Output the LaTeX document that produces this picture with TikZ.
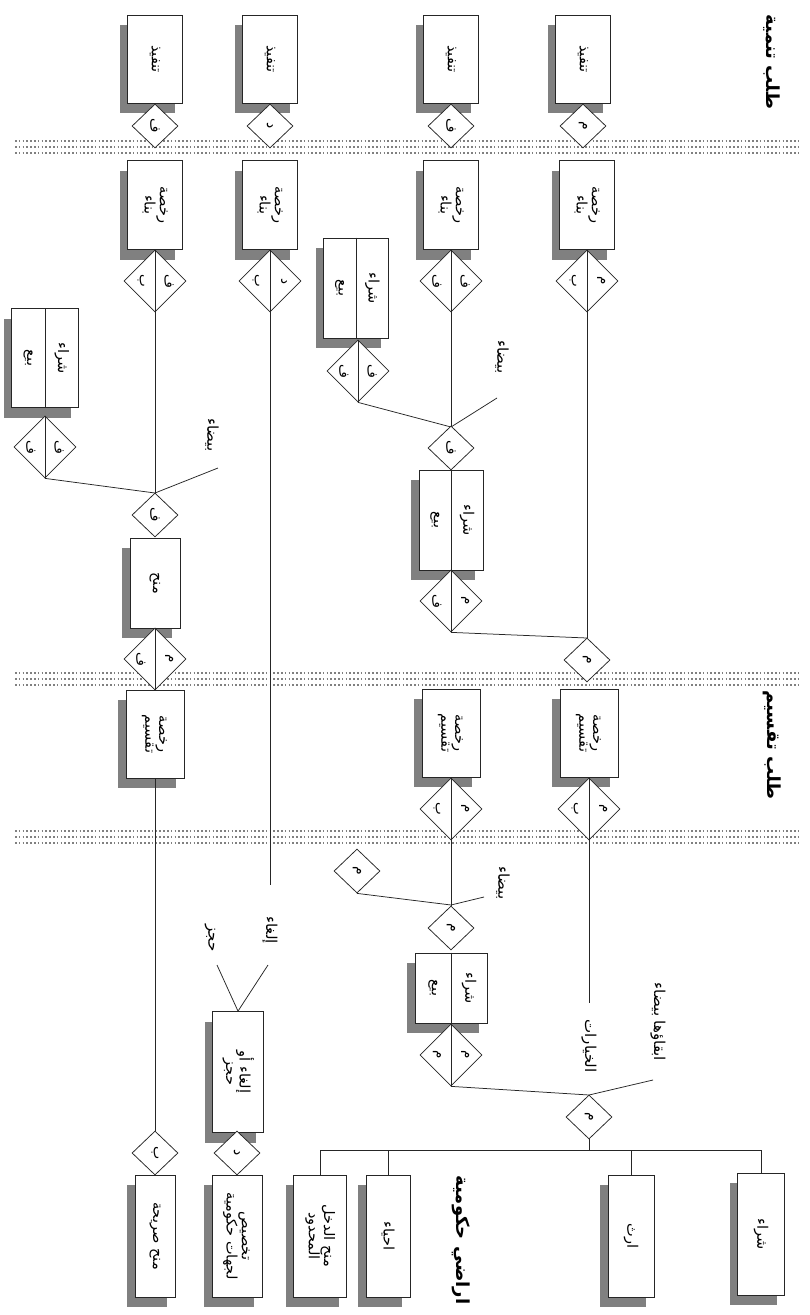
\documentclass[tikz,border=0pt]{standalone}
\usepackage{fontspec}
\usepackage{graphicx}
\usetikzlibrary{shapes.geometric,shadows,calc}
\TeXXeTstate=1
\newfontfamily\arabicfont[Script=Arabic]{DejaVu Sans}
\newcommand{\ar}[1]{{\arabicfont\beginR #1\endR}}
\newcommand{\rone}[1]{\rotatebox{-90}{\ar{#1}}}
\newcommand{\rtwo}[2]{\rotatebox{-90}{\renewcommand{\arraystretch}{0.85}\begin{tabular}{@{}c@{}}\ar{#1}\\\ar{#2}\end{tabular}}}
\tikzset{
  conn/.style={draw=black!85, line width=0.75pt},
  bx/.style={draw=black!85, line width=0.75pt, fill=white, inner sep=0pt,
    font=\fontsize{14.5}{16}\selectfont,
    drop shadow={shadow xshift=-8pt, shadow yshift=-10pt, fill=black!50, opacity=1}},
  dia/.style={diamond, draw=black!85, line width=0.75pt, fill=white, inner sep=0pt,
    minimum width=46pt, minimum height=44pt, font=\fontsize{14}{16}\selectfont},
  sdia/.style={dia, minimum width=62pt, minimum height=62pt},
  let/.style={inner sep=0pt, font=\fontsize{13.5}{15}\selectfont},
  txt/.style={inner sep=0pt, font=\fontsize{14.5}{16}\selectfont},
  lbl/.style={inner sep=0pt, font=\fontsize{15}{17}\selectfont},
  head/.style={inner sep=0pt, font=\fontsize{18}{21}\selectfont\bfseries},
  dots/.style={draw=black!50, line width=1.6pt, dash pattern=on 1.5pt off 2.3pt}
}
\newcommand{\sdiam}[5]{%
  \node[sdia] (#1) at (#2,#3) {};
  \draw[conn] (#1.north) -- (#1.south);
  \node[let] at ($(#1.center)!0.45!(#1.west)$) {\rone{#4}};
  \node[let] at ($(#1.center)!0.45!(#1.east)$) {\rone{#5}};
}
\newcommand{\splitbx}[5]{%
  \node[bx, minimum width=#4pt, minimum height=#5pt] (#1) at (#2,#3) {};
  \draw[conn] (#1.north) -- (#1.south);
  \node[txt] at ($(#1.center)!0.5!(#1.west)$) {\rone{بيع}};
  \node[txt] at ($(#1.center)!0.5!(#1.east)$) {\rone{شراء}};
}
\begin{document}
\begin{tikzpicture}[x=1pt,y=-1pt]
\fill[white] (0,0) rectangle (809,1315);
\useasboundingbox (0,0) rectangle (809,1315);

% dotted separators
\foreach \yy in {141,147,153,673,679,685,831,837,843}
  \draw[dots] (15,\yy) -- (800,\yy);

% headings
\node[head] (h1) at (772,62) {\rone{طلب تنمية}};
\node[head] (h2) at (772,745) {\rone{طلب تقسيم}};
\node[head] (h3) at (461,1240) {\rone{اراضي حكومية}};

% top row: tanfidh
\foreach \n/\xx/\l in {A/155/ف,B/270/د,C/451/ف,D/583/م}{
  \node[bx, minimum width=55pt, minimum height=88pt] (t\n) at (\xx,59) {\rone{تنفيذ}};
  \node[dia] (td\n) at (\xx,126) {\rone{\l}};
}

% building permits
\foreach \n/\xx in {A/155,B/270,C/451,D/587}{
  \node[bx, minimum width=55pt, minimum height=89pt] (rb\n) at (\xx,205) {\rtwo{رخصة}{بناء}};
}
\sdiam{sdA}{155}{281}{ب}{ف}
\sdiam{sdB}{270}{281}{ب}{د}
\sdiam{sdC}{451}{281}{ف}{ف}
\sdiam{sdD}{587}{281}{ب}{م}

% column A
\splitbx{lb}{45}{358}{67}{99}
\sdiam{lbd}{45}{447}{ف}{ف}
\coordinate (jA) at (155,493);
\coordinate (eA) at (218,468);
\node[dia] (dA2) at (155,515) {\rone{ف}};
\node[bx, minimum width=50pt, minimum height=90pt] (mn) at (155,583) {\rone{منح}};
\sdiam{sdA2}{155}{659}{ف}{م}
\node[bx, minimum width=58pt, minimum height=88pt] (rtA) at (155,734) {\rtwo{رخصة}{تقسيم}};
\node[dia] (dbA) at (155,1153) {\rone{ب}};
\node[bx, minimum width=40pt, minimum height=122pt] (bA) at (155,1236) {\rone{منح صريحة}};
\draw[conn] (sdA.south) -- (jA);
\draw[conn] (lbd.south) -- (jA);
\draw[conn] (jA) -- (eA);
\draw[conn] (jA) -- (dA2.north);
\draw[conn] (rtA.south) -- (dbA.north);
\node[lbl] (lA) at (212,435) {\rone{بيضاء}};

% column B
\coordinate (eB) at (270,885);
\draw[conn] (sdB.south) -- (eB);
\node[bx, minimum width=51pt, minimum height=121pt] (ilg) at (238,1072) {\rtwo{\beginR إلغاء أو\endR}{حجز}};
\coordinate (v1) at (217,965);
\coordinate (v2) at (268,965);
\draw[conn] (v1) -- (ilg.north) -- (v2);
\node[lbl] (lH) at (210,938) {\rone{حجز}};
\node[lbl] (lI) at (270,930) {\rone{إلغاء}};
\node[dia] (dbB) at (237,1153) {\rone{د}};
\node[bx, minimum width=50pt, minimum height=122pt] (bB) at (237,1236) {\rtwo{تخصيص}{\beginR لجهات حكومية\endR}};

% column C (development part)
\splitbx{mb}{356}{288}{65}{100}
\sdiam{mbd}{358}{371}{ف}{ف}
\coordinate (jC) at (451,427);
\coordinate (eC) at (497,398);
\draw[conn] (sdC.south) -- (jC);
\draw[conn] (mbd.south) -- (jC);
\draw[conn] (jC) -- (eC);
\node[lbl] (lC) at (502,357) {\rone{بيضاء}};
\node[dia] (dC2) at (451,448) {\rone{ف}};
\splitbx{sc}{451}{520}{64}{100}
\sdiam{sdC2}{451}{601}{ف}{م}
\coordinate (jD) at (587,638);
\draw[conn] (sdD.south) -- (jD);
\draw[conn] (sdC2.south) -- (jD);
\node[dia] (dD2) at (587,660) {\rone{م}};

% subdivision permits
\node[bx, minimum width=58pt, minimum height=88pt] (rtC) at (451,733) {\rtwo{رخصة}{تقسيم}};
\node[bx, minimum width=58pt, minimum height=88pt] (rtD) at (589,733) {\rtwo{رخصة}{تقسيم}};
\sdiam{sdC3}{451}{809}{ب}{م}
\sdiam{sdD3}{589}{809}{ب}{م}

% lower part column C
\node[dia] (sm) at (357,871) {\rone{م}};
\coordinate (jC2) at (451,905);
\coordinate (eC2) at (484,897);
\draw[conn] (sdC3.south) -- (jC2);
\draw[conn] (sm.south) -- (jC2);
\draw[conn] (jC2) -- (eC2);
\node[lbl] (lC2) at (503,883) {\rone{بيضاء}};
\node[dia] (dC3) at (451,928) {\rone{م}};
\draw[conn] (jC2) -- (dC3.north);
\splitbx{sc2}{451}{988}{72}{70}
\sdiam{sdC4}{451}{1055}{م}{م}
\coordinate (jD2) at (589,1095);
\draw[conn] (sdC4.south) -- (jD2);

% column D lower
\coordinate (eD) at (589,1003);
\draw[conn] (sdD3.south) -- (eD);
\node[lbl] (lK) at (589,1046) {\rone{الخيارات}};
\coordinate (eD2) at (653,1080);
\draw[conn] (jD2) -- (eD2);
\node[lbl] (lB) at (658,1022) {\rone{ابقاؤها بيضاء}};
\node[dia] (dG) at (589,1117) {\rone{م}};
\draw[conn] (jD2) -- (dG.north);
\coordinate (bus) at (589,1150);
\draw[conn] (dG.south) -- (bus);

% government land sources
\node[bx, minimum width=53pt, minimum height=122pt] (g1) at (320,1236) {\rtwo{\beginR منح الدخل\endR}{المحدود}};
\node[bx, minimum width=44pt, minimum height=122pt] (g2) at (388,1236) {\rone{احياء}};
\node[bx, minimum width=46pt, minimum height=122pt] (g3) at (631,1236) {\rone{ارث}};
\node[bx, minimum width=47pt, minimum height=122pt] (g4) at (761,1234) {\rone{شراء}};
\foreach \g in {g1,g2,g3,g4}
  \draw[conn] (\g.north) |- (bus);
\end{tikzpicture}
\end{document}
